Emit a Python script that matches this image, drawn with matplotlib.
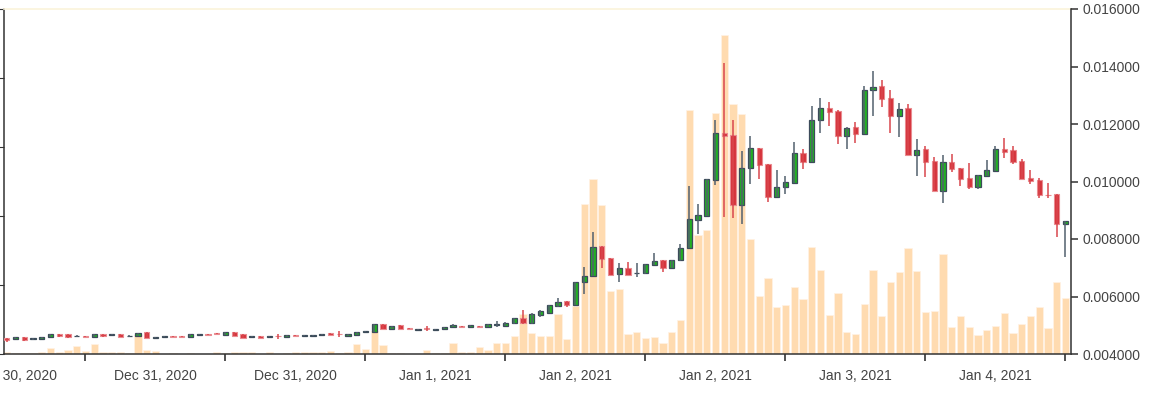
import numpy as np
import matplotlib
matplotlib.use("Agg")
import matplotlib.pyplot as plt
from matplotlib.ticker import FixedLocator, FuncFormatter

plt.rcParams['font.family'] = ['Liberation Sans', 'DejaVu Sans']

# OHLC per candle (price)
opens = [0.004546, 0.004511, 0.004591, 0.004530, 0.004530, 0.004591, 0.004685, 0.004685, 0.004620, 0.004637,
         0.004602, 0.004685, 0.004660, 0.004685, 0.004610, 0.004626, 0.004755, 0.004570, 0.004590, 0.004630,
         0.004620, 0.004602, 0.004670, 0.004710, 0.004720, 0.004661, 0.004776, 0.004696, 0.004580, 0.004630,
         0.004580, 0.004640, 0.004581, 0.004670, 0.004630, 0.004640, 0.004660, 0.004730, 0.004710, 0.004620,
         0.004672, 0.004750, 0.004765, 0.005043, 0.004880, 0.005000, 0.004900, 0.004850, 0.004890, 0.004840,
         0.004860, 0.004930, 0.004980, 0.004930, 0.004980, 0.004950, 0.005000, 0.004980, 0.005068, 0.005252,
         0.005068, 0.005357, 0.005437, 0.005680, 0.005833, 0.005704, 0.006487, 0.006703, 0.007757, 0.007350,
         0.006783, 0.006991, 0.006810, 0.006807, 0.007106, 0.007270, 0.006991, 0.007259, 0.007677, 0.008661,
         0.008800, 0.010052, 0.011677, 0.011617, 0.009183, 0.010459, 0.011155, 0.010609, 0.009471, 0.009819,
         0.009958, 0.011002, 0.010689, 0.012139, 0.012546, 0.012463, 0.011593, 0.011885, 0.011652, 0.013183,
         0.013322, 0.012915, 0.012289, 0.012546, 0.010922, 0.011120, 0.010723, 0.009680, 0.010689, 0.010480,
         0.010111, 0.009819, 0.010202, 0.010376, 0.011130, 0.011096, 0.010723, 0.010111, 0.010052, 0.009545,
         0.009555, 0.008522]
highs = [0.004546, 0.004581, 0.004591, 0.004550, 0.004600, 0.004685, 0.004685, 0.004685, 0.004650, 0.004637,
         0.004685, 0.004685, 0.004690, 0.004685, 0.004650, 0.004741, 0.004755, 0.004600, 0.004630, 0.004630,
         0.004620, 0.004706, 0.004710, 0.004710, 0.004720, 0.004776, 0.004776, 0.004696, 0.004630, 0.004630,
         0.004630, 0.004700, 0.004661, 0.004670, 0.004660, 0.004670, 0.004700, 0.004730, 0.004800, 0.004700,
         0.004776, 0.004810, 0.005050, 0.005043, 0.004970, 0.005000, 0.004900, 0.004880, 0.004970, 0.004870,
         0.004950, 0.005040, 0.004980, 0.005000, 0.004980, 0.005040, 0.005150, 0.005120, 0.005250, 0.005530,
         0.005410, 0.005530, 0.005720, 0.005948, 0.005833, 0.006510, 0.007037, 0.008254, 0.007757, 0.007350,
         0.007148, 0.007210, 0.007155, 0.007130, 0.007503, 0.007270, 0.007280, 0.007837, 0.009843, 0.009217,
         0.010080, 0.012139, 0.014111, 0.012139, 0.011061, 0.011593, 0.011155, 0.010610, 0.010400, 0.010191,
         0.011374, 0.011120, 0.012637, 0.012894, 0.012776, 0.012470, 0.011880, 0.012059, 0.013332, 0.013854,
         0.013530, 0.013183, 0.012720, 0.012685, 0.011468, 0.011235, 0.010863, 0.010922, 0.010946, 0.010480,
         0.010633, 0.010230, 0.010748, 0.011235, 0.011503, 0.011245, 0.010772, 0.010400, 0.010132, 0.009937,
         0.009555, 0.008640]
lows = [0.004428, 0.004511, 0.004463, 0.004490, 0.004530, 0.004591, 0.004591, 0.004567, 0.004590, 0.004602,
        0.004602, 0.004602, 0.004650, 0.004581, 0.004600, 0.004626, 0.004546, 0.004570, 0.004590, 0.004600,
        0.004590, 0.004602, 0.004670, 0.004670, 0.004690, 0.004661, 0.004626, 0.004567, 0.004580, 0.004570,
        0.004580, 0.004530, 0.004581, 0.004610, 0.004630, 0.004640, 0.004660, 0.004650, 0.004580, 0.004620,
        0.004672, 0.004750, 0.004760, 0.004870, 0.004880, 0.004860, 0.004860, 0.004850, 0.004810, 0.004840,
        0.004860, 0.004930, 0.004940, 0.004930, 0.004950, 0.004950, 0.004930, 0.004960, 0.005060, 0.005050,
        0.005050, 0.005300, 0.005430, 0.005635, 0.005635, 0.005700, 0.006104, 0.006700, 0.006991, 0.006740,
        0.006515, 0.006740, 0.006689, 0.006800, 0.007100, 0.006852, 0.006980, 0.007250, 0.007670, 0.008174,
        0.008790, 0.009878, 0.008776, 0.008720, 0.008522, 0.009913, 0.010087, 0.009277, 0.009460, 0.009565,
        0.009950, 0.010424, 0.010680, 0.011677, 0.011941, 0.011294, 0.011120, 0.011329, 0.011640, 0.012278,
        0.012581, 0.011677, 0.011558, 0.010910, 0.010191, 0.010167, 0.009660, 0.009263, 0.010320, 0.009843,
        0.009729, 0.009729, 0.010200, 0.010370, 0.010828, 0.010609, 0.010070, 0.009913, 0.009416, 0.009416,
        0.008080, 0.007384]
closes = [0.004487, 0.004581, 0.004498, 0.004540, 0.004600, 0.004685, 0.004637, 0.004602, 0.004630, 0.004602,
          0.004685, 0.004637, 0.004670, 0.004581, 0.004630, 0.004741, 0.004546, 0.004600, 0.004630, 0.004600,
          0.004590, 0.004706, 0.004710, 0.004670, 0.004690, 0.004776, 0.004626, 0.004567, 0.004630, 0.004570,
          0.004630, 0.004620, 0.004661, 0.004610, 0.004660, 0.004670, 0.004700, 0.004650, 0.004690, 0.004700,
          0.004776, 0.004810, 0.005043, 0.004870, 0.004970, 0.004860, 0.004860, 0.004880, 0.004870, 0.004870,
          0.004950, 0.005000, 0.004940, 0.005000, 0.004950, 0.005040, 0.005040, 0.005090, 0.005242, 0.005068,
          0.005402, 0.005496, 0.005715, 0.005819, 0.005704, 0.006504, 0.006723, 0.007732, 0.007315, 0.006748,
          0.006981, 0.006748, 0.006820, 0.007123, 0.007235, 0.006991, 0.007270, 0.007704, 0.008685, 0.008835,
          0.010077, 0.011677, 0.011583, 0.009183, 0.010459, 0.011155, 0.010574, 0.009471, 0.009819, 0.009983,
          0.011002, 0.010689, 0.012139, 0.012546, 0.012428, 0.011593, 0.011871, 0.011652, 0.013183, 0.013297,
          0.012870, 0.012289, 0.012522, 0.010922, 0.011096, 0.010689, 0.009670, 0.010668, 0.010435, 0.010077,
          0.009819, 0.010226, 0.010400, 0.011130, 0.011037, 0.010689, 0.010077, 0.010017, 0.009530, 0.009520,
          0.008511, 0.008637]
# volume per candle (left axis, 0-500)
volumes = [2.5, 2, 2, 2, 2.5, 9, 3.5, 5.5, 12, 4.5,
           15, 3, 3, 3, 2, 27.5, 6.5, 4.5, 0.7, 2,
           0.7, 2, 0.7, 0.7, 3, 2, 3, 3, 3, 0.7,
           3.5, 0.7, 2, 2.5, 3, 2.5, 3, 4, 1.5, 3,
           14, 7, 33, 12.5, 1, 2, 0.7, 0.7, 6, 2,
           1, 15.5, 2.5, 2.5, 10, 6, 15.5, 16, 26, 58,
           31, 26, 26.5, 57.5, 21.3, 70, 217, 253.5, 216, 91.7,
           94, 29.4, 32.3, 23.6, 25, 16.4, 32.3, 49.3, 353.6, 172.4,
           179.7, 348.8, 462.2, 362.3, 347.3, 166.6, 84.5, 110.6, 68.5, 70.6,
           97.5, 79.3, 154.6, 121.7, 56.5, 88, 31.9, 28.5, 72.5, 121.7,
           55.5, 104.8, 119.3, 154, 120.3, 60.4, 62.3, 144.9, 39.6, 55.5,
           39.6, 27.5, 34.8, 41, 59, 30, 43, 55.5, 68.5, 38.1,
           103.9, 80.7]

tick_idx = [9, 25, 41, 57, 73, 89, 105, 121]
label_idx = [1, 17, 33, 49, 65, 81, 97, 113]
labels = ['Dec 30, 2020', 'Dec 31, 2020', 'Dec 31, 2020', 'Jan 1, 2021',
          'Jan 2, 2021', 'Jan 2, 2021', 'Jan 3, 2021', 'Jan 4, 2021']

o = np.array(opens); h = np.array(highs); l = np.array(lows); c = np.array(closes)
x = np.arange(len(o))
up = c >= o

fig = plt.figure(figsize=(11.55, 3.97), dpi=100)
ax = fig.add_axes([4/1155, 43/397, 1067/1155, 345/397])
ax.bar(x, volumes, width=0.82, color='#ffdbb0', edgecolor='#fff3e4', linewidth=0.5)
ax.set_ylim(0, 500)
ax.set_xlim(-0.31, 121.63)
ax.yaxis.set_major_locator(FixedLocator([0, 100, 200, 300, 400, 500]))
ax.tick_params(axis='y', which='both', direction='out', length=5, color='#333333',
               labelleft=False)

ax.xaxis.set_major_locator(FixedLocator(tick_idx))
ax.xaxis.set_minor_locator(FixedLocator(label_idx))
ax.xaxis.set_major_formatter(FuncFormatter(lambda v, p: ''))
ax.xaxis.set_minor_formatter(FuncFormatter(lambda v, p: labels[label_idx.index(int(round(v)))]))
ax.tick_params(axis='x', which='major', direction='out', length=5, width=1.2, color='#333333')
ax.tick_params(axis='x', which='minor', length=0, pad=10.5, labelsize=10, labelcolor='#444444')

for s in ['left', 'bottom']:
    ax.spines[s].set_color('#333333')
    ax.spines[s].set_linewidth(1.1)
ax.spines['right'].set_visible(False)
ax.spines['top'].set_color('#fbf3da')
ax.spines['top'].set_linewidth(1.2)

axp = ax.twinx()
axp.set_ylim(0.004, 0.016)
axp.yaxis.set_major_locator(FixedLocator(np.arange(0.004, 0.0161, 0.002)))
axp.yaxis.set_major_formatter(FuncFormatter(lambda v, p: '%.6f' % v))
axp.tick_params(axis='y', direction='out', length=5, width=1.1, color='#333333',
                pad=3, labelsize=10, labelcolor='#444444')
axp.spines['right'].set_color('#333333')
axp.spines['right'].set_linewidth(1.1)
for s in ['left', 'top', 'bottom']:
    axp.spines[s].set_visible(False)

bot = np.minimum(o, c)
hgt = np.maximum(np.abs(c - o), 0.00002)
axp.vlines(x[up], l[up], h[up], color='#52606e', linewidth=1.1)
axp.vlines(x[~up], l[~up], h[~up], color='#d9474d', linewidth=1.1)
axp.bar(x[up], hgt[up], bottom=bot[up], width=0.58, color='#22b022',
        edgecolor='#3c4b5a', linewidth=0.9)
axp.bar(x[~up], hgt[~up], bottom=bot[~up], width=0.58, color='#d5343c',
        edgecolor='#e98b90', linewidth=0.8)

fig.savefig('out.png', dpi=100)
